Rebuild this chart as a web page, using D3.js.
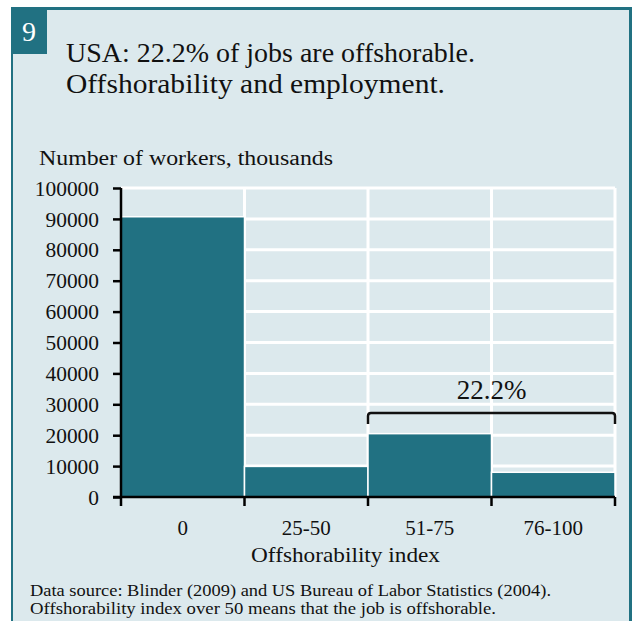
<!DOCTYPE html>
<html>
<head>
<meta charset="utf-8">
<script src="https://cdn.jsdelivr.net/npm/d3@7"></script>
<style>
  html, body { margin: 0; padding: 0; background: #ffffff; }
  svg { display: block; }
  text { font-family: "Liberation Serif", "DejaVu Serif", serif; fill: #111; }
</style>
</head>
<body>
<svg id="chart" width="632" height="621"></svg>
<script>
// Employment by offshorability index bin (thousands of workers)
const categories = ["0", "25-50", "51-75", "76-100"];
const workers = [90700, 9900, 20500, 8000];
const yTicks = [0, 10000, 20000, 30000, 40000, 50000, 60000, 70000, 80000, 90000, 100000];
const offshorableShare = "22.2%";
const offshorableFrom = "51-75";
const offshorableTo = "76-100";

const teal = "#217182";
const panel = "#dce9ed";

const svg = d3.select("#chart");

// Panel with teal frame
svg.append("rect").attr("x", 11).attr("y", 7).attr("width", 632 - 11).attr("height", 640)
  .attr("fill", teal);
svg.append("rect").attr("x", 13).attr("y", 10).attr("width", 629 - 13).attr("height", 640)
  .attr("fill", panel);

// Figure number badge
svg.append("rect").attr("x", 11).attr("y", 7).attr("width", 36).attr("height", 47).attr("fill", teal);
svg.append("text").attr("x", 29).attr("y", 41).attr("text-anchor", "middle")
  .attr("font-size", 28).style("fill", "#fff").text("9");

// Title
svg.append("text").attr("x", 66).attr("y", 62).attr("font-size", 27)
  .attr("textLength", 409).attr("lengthAdjust", "spacingAndGlyphs")
  .text("USA: 22.2% of jobs are offshorable.");
svg.append("text").attr("x", 66).attr("y", 93).attr("font-size", 27)
  .attr("textLength", 379).attr("lengthAdjust", "spacingAndGlyphs")
  .text("Offshorability and employment.");

// Plot area
const x0 = 121, x1 = 615, yTop = 188, yBase = 497;

const x = d3.scaleBand().domain(categories).range([x0, x1]).padding(0);
const y = d3.scaleLinear().domain([0, 100000]).range([yBase, yTop]);

const plot = svg.append("g");

// White grid: horizontal at each tick, vertical at bin edges
plot.selectAll("line.h").data(yTicks.filter(d => d > 0)).join("line")
  .attr("x1", x0).attr("x2", x1)
  .attr("y1", d => y(d)).attr("y2", d => y(d))
  .attr("stroke", "#fff").attr("stroke-width", 3);
plot.selectAll("line.v").data(categories.slice(1).map(c => x(c)).concat([x1])).join("line")
  .attr("x1", d => d).attr("x2", d => d)
  .attr("y1", yTop).attr("y2", yBase)
  .attr("stroke", "#fff").attr("stroke-width", 3);

// Bars
plot.selectAll("rect.bar").data(categories).join("rect")
  .attr("class", "bar")
  .attr("x", c => x(c))
  .attr("width", x.bandwidth())
  .attr("y", (c, i) => y(workers[i]))
  .attr("height", (c, i) => yBase - y(workers[i]))
  .attr("fill", teal)
  .attr("stroke", "#fff").attr("stroke-width", 1.5);

// Y axis
const yAxis = d3.axisLeft(y).tickValues(yTicks).tickFormat(d3.format("d"))
  .tickSize(8).tickPadding(14);
const gy = svg.append("g").attr("transform", `translate(${x0},0)`).call(yAxis);
gy.select(".domain").attr("stroke", "#000").attr("stroke-width", 2.5)
  .attr("d", `M0,${yTop}V${yBase}`);
gy.selectAll(".tick line").attr("stroke", "#000").attr("stroke-width", 2.5);
gy.selectAll(".tick text").attr("font-size", 21)
  .style("font-family", "'Liberation Serif', serif").style("fill", "#111")
  .attr("dy", "0.34em")
  .attr("textLength", d => String(d).length * 10.7)
  .attr("lengthAdjust", "spacingAndGlyphs");

// X axis: ticks at bin edges, labels at bin centers
const edges = categories.map(c => x(c)).concat([x1]);
const gx = svg.append("g");
gx.append("line").attr("x1", x0 - 8).attr("x2", x1)
  .attr("y1", yBase).attr("y2", yBase)
  .attr("stroke", "#000").attr("stroke-width", 2.5);
gx.selectAll("line.t").data(edges).join("line")
  .attr("x1", d => d).attr("x2", d => d)
  .attr("y1", yBase).attr("y2", yBase + 9)
  .attr("stroke", "#000").attr("stroke-width", 2.5);
gx.selectAll("text").data(categories).join("text")
  .attr("x", c => x(c) + x.bandwidth() / 2)
  .attr("y", 535).attr("text-anchor", "middle").attr("font-size", 21)
  .text(c => c);

// Axis titles
svg.append("text").attr("x", 39).attr("y", 165).attr("font-size", 20)
  .attr("textLength", 294).attr("lengthAdjust", "spacingAndGlyphs")
  .text("Number of workers, thousands");
svg.append("text").attr("x", 251).attr("y", 562)
  .attr("font-size", 22).attr("textLength", 189).attr("lengthAdjust", "spacingAndGlyphs")
  .text("Offshorability index");

// Bracket over the offshorable bins
const bx0 = x(offshorableFrom), bx1 = x(offshorableTo) + x.bandwidth();
const by = 413;
svg.append("path")
  .attr("d", `M${bx0},${by + 11}V${by + 3}Q${bx0},${by} ${bx0 + 3},${by}H${bx1 - 3}Q${bx1},${by} ${bx1},${by + 3}V${by + 11}`)
  .attr("fill", "none").attr("stroke", "#111").attr("stroke-width", 2.5);
svg.append("text").attr("x", (bx0 + bx1) / 2).attr("y", 399).attr("text-anchor", "middle")
  .attr("font-size", 27).text(offshorableShare);

// Source note
svg.append("text").attr("x", 30).attr("y", 596).attr("font-size", 16)
  .attr("textLength", 521).attr("lengthAdjust", "spacingAndGlyphs")
  .text("Data source: Blinder (2009) and US Bureau of Labor Statistics (2004).");
svg.append("text").attr("x", 30).attr("y", 614).attr("font-size", 16)
  .attr("textLength", 466).attr("lengthAdjust", "spacingAndGlyphs")
  .text("Offshorability index over 50 means that the job is offshorable.");
</script>
</body>
</html>
